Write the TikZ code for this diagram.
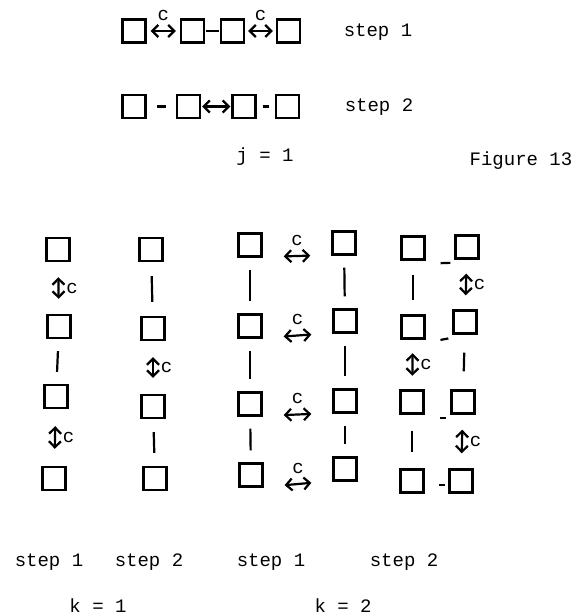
\documentclass[tikz,border=0pt]{standalone}
\usepackage{fontspec}
\setmonofont{Liberation Mono}
\usepackage{tikz}
\usetikzlibrary{arrows.meta, positioning, calc}

\begin{document}
\begin{tikzpicture}[x=0.5pt, y=-0.5pt,
      font=\ttfamily\fontsize{9.5}{11}\selectfont,
      cell/.style={draw, line width=1.2pt, minimum size=11.5pt, inner sep=0pt},
      link/.style={line width=1.1pt, shorten <=#1, shorten >=#1}, link/.default=1pt,
      xch/.style={{Straight Barb[length=3pt, width=6pt]}-{Straight Barb[length=3pt, width=6pt]}, line width=1.1pt, shorten <=#1, shorten >=#1}, xch/.default=1.5pt,
      tag/.style={inner sep=0pt}]
    \useasboundingbox (0,0) rectangle (578,615);
    % j = 1, step 1
    \node[cell] (t1) at (134,31) {}; \node[cell] (t2) at (192.5,31) {};
    \node[cell] (t3) at (232.5,31) {}; \node[cell] (t4) at (288.5,31) {};
    \draw[xch=2pt] (t1) -- node[above=1.5pt]{c} (t2);
    \draw[link=0.5pt] (t2) -- (t3);
    \draw[xch] (t3) -- node[above=1.5pt]{c} (t4);
    \node[tag] (step1) at (378,32) {step 1};
    % j = 1, step 2
    \node[cell] (s1) at (134,106.5) {}; \node[cell] (s2) at (188.5,106.5) {};
    \node[cell] (s3) at (244,106.5) {}; \node[cell] (s4) at (287.5,106.5) {};
    \draw[link=5pt] (s1) -- (s2);
    \draw[xch=0.5pt] (s2) -- (s3);
    \draw[link=3pt] (s3) -- (s4);
    \node[tag] (step2) at (379,107) {step 2};
    \node[tag] (jone) at (265,157) {j = 1};
    \node[tag] (fig) at (521,161) {Figure 13};
    % k = 1, step 1
    \node[cell] (a1) at (58,249.5) {}; \node[cell] (a2) at (59,326.5) {};
    \node[cell] (a3) at (56,396.5) {}; \node[cell] (a4) at (54,478.5) {};
    \draw[xch=7.5pt] (a1) -- node[right]{c} (a2);
    \draw[link=6pt] (a2) -- (a3);
    \draw[xch=8.5pt] (a3) -- node[right]{c} (a4);
    % k = 1, step 2
    \node[cell] (b1) at (151,249.5) {}; \node[cell] (b2) at (153,328.5) {};
    \node[cell] (b3) at (153,406.5) {}; \node[cell] (b4) at (155,478.5) {};
    \draw[link=7pt] (b1) -- (b2);
    \draw[xch=8pt] (b2) -- node[right]{c} (b3);
    \draw[link=6.5pt] (b3) -- (b4);
    % k = 2, step 1
    \node[cell] (c1) at (250,245) {}; \node[cell] (c2) at (250,326) {};
    \node[cell] (c3) at (250,404) {}; \node[cell] (c4) at (251,475) {};
    \node[cell] (d1) at (344,243) {}; \node[cell] (d2) at (345,321) {};
    \node[cell] (d3) at (345,401) {}; \node[cell] (d4) at (345,469) {};
    \draw[link=6pt] (c1) -- (c2); \draw[link=6pt] (c2) -- (c3); \draw[link=6pt] (c3) -- (c4);
    \draw[link=6pt] (d1) -- (d2); \draw[link=6pt] (d2) -- (d3); \draw[link=6pt] (d3) -- (d4);
    \foreach \r in {1,...,4}
      \draw[xch=10.5pt] ([yshift=-6pt]c\r.east) -- node[above=1.5pt]{c} ([yshift=-6pt]d\r.west);
    % k = 2, step 2
    \node[cell] (e1) at (413,248) {}; \node[cell] (e2) at (413,327) {};
    \node[cell] (e3) at (412,402) {}; \node[cell] (e4) at (412,481) {};
    \node[cell] (f1) at (467,247) {}; \node[cell] (f2) at (465,322) {};
    \node[cell] (f3) at (463,402) {}; \node[cell] (f4) at (461,481) {};
    \draw[link=7pt] (e1) -- (e2);
    \draw[xch=6.75pt] (e2) -- node[right]{c} (e3);
    \draw[link=8pt] (e3) -- (e4);
    \draw[xch=7pt] (f1) -- node[right]{c} (f2);
    \draw[link=9pt] (f2) -- (f3);
    \draw[xch=7.5pt] (f3) -- node[right]{c} (f4);
    \foreach \r in {1,2,3}
      \draw[line width=1.1pt, shorten <=7.5pt, shorten >=2pt] ([yshift=-1.5pt]e\r.south east) -- ([yshift=-1.5pt]f\r.south west);
    \draw[line width=1.1pt, shorten <=7pt, shorten >=1.5pt] ([yshift=-2pt]e4.east) -- ([yshift=-2pt]f4.west);
    % bottom labels
    \node[tag] (ka) at (49,562) {step 1}; \node[tag] (kb) at (149,562) {step 2};
    \node[tag] (kc) at (271,562) {step 1}; \node[tag] (kd) at (404,562) {step 2};
    \node[tag] (kone) at (98,606) {k = 1};
    \node[tag] (ktwo) at (343,606) {k = 2};
  \end{tikzpicture}
\end{document}
